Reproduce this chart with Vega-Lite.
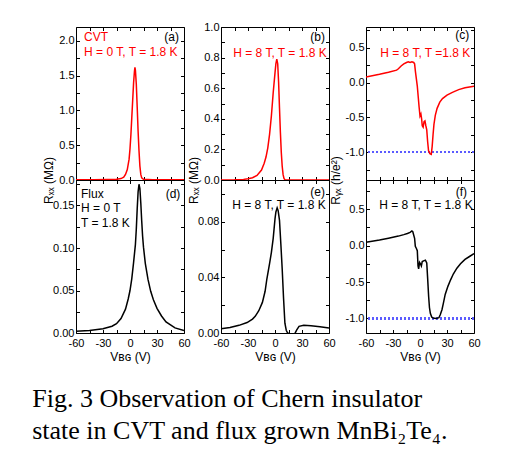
{
  "$schema": "https://vega.github.io/schema/vega-lite/v6.json",
  "padding": {"left": 32, "top": 20, "right": 5, "bottom": 5},
  "background": "white",
  "datasets": {
    "a": [
      {"V": -60, "R": 0.003}, {"V": -40, "R": 0.004}, {"V": -25, "R": 0.006}, {"V": -15, "R": 0.01},
      {"V": -10, "R": 0.02}, {"V": -7, "R": 0.04}, {"V": -5, "R": 0.08}, {"V": -3, "R": 0.15},
      {"V": -1, "R": 0.3}, {"V": 0, "R": 0.45}, {"V": 1, "R": 0.65}, {"V": 2, "R": 0.9},
      {"V": 3, "R": 1.15}, {"V": 4, "R": 1.4}, {"V": 5, "R": 1.57}, {"V": 5.5, "R": 1.62},
      {"V": 6, "R": 1.58}, {"V": 7, "R": 1.38}, {"V": 8, "R": 1.05}, {"V": 9, "R": 0.7},
      {"V": 10, "R": 0.42}, {"V": 11, "R": 0.2}, {"V": 12, "R": 0.08}, {"V": 13, "R": 0.03},
      {"V": 15, "R": 0.01}, {"V": 25, "R": 0.004}, {"V": 40, "R": 0.003}, {"V": 60, "R": 0.002}
    ],
    "b": [
      {"V": -60, "R": 0}, {"V": -45, "R": 0.001}, {"V": -35, "R": 0.004}, {"V": -30, "R": 0.008},
      {"V": -25, "R": 0.015}, {"V": -20, "R": 0.03}, {"V": -15, "R": 0.065}, {"V": -12, "R": 0.11},
      {"V": -10, "R": 0.15}, {"V": -8, "R": 0.21}, {"V": -6, "R": 0.3}, {"V": -4, "R": 0.42},
      {"V": -2, "R": 0.57}, {"V": 0, "R": 0.7}, {"V": 1, "R": 0.76}, {"V": 2, "R": 0.79},
      {"V": 3, "R": 0.76}, {"V": 4, "R": 0.64}, {"V": 5, "R": 0.47}, {"V": 6, "R": 0.31},
      {"V": 7, "R": 0.18}, {"V": 8, "R": 0.09}, {"V": 9, "R": 0.035}, {"V": 10, "R": 0.01},
      {"V": 11, "R": 0.002}, {"V": 13, "R": 0}, {"V": 60, "R": 0}
    ],
    "c": [
      {"V": -60, "R": 0.08}, {"V": -45, "R": 0.12}, {"V": -35, "R": 0.15}, {"V": -26, "R": 0.18},
      {"V": -24, "R": 0.2}, {"V": -21, "R": 0.24}, {"V": -18, "R": 0.27}, {"V": -15, "R": 0.29},
      {"V": -13, "R": 0.3}, {"V": -11, "R": 0.29}, {"V": -9, "R": 0.3}, {"V": -7, "R": 0.29},
      {"V": -6, "R": 0.27}, {"V": -5, "R": 0.15}, {"V": -4, "R": 0.05}, {"V": -3, "R": -0.05},
      {"V": -2, "R": -0.2}, {"V": -1, "R": -0.35}, {"V": 0, "R": -0.48}, {"V": 1, "R": -0.45},
      {"V": 1.8, "R": -0.52}, {"V": 2.5, "R": -0.62}, {"V": 3.5, "R": -0.64}, {"V": 4.5, "R": -0.56},
      {"V": 5.5, "R": -0.55}, {"V": 6.5, "R": -0.62}, {"V": 7.5, "R": -0.68}, {"V": 8.5, "R": -0.85},
      {"V": 9.5, "R": -0.98}, {"V": 11, "R": -1.02}, {"V": 12.5, "R": -1.03}, {"V": 13.5, "R": -0.92},
      {"V": 14.5, "R": -0.75}, {"V": 15.5, "R": -0.6}, {"V": 17, "R": -0.47}, {"V": 19, "R": -0.37},
      {"V": 22, "R": -0.28}, {"V": 25, "R": -0.23}, {"V": 30, "R": -0.18}, {"V": 36, "R": -0.14},
      {"V": 43, "R": -0.1}, {"V": 50, "R": -0.075}, {"V": 60, "R": -0.05}
    ],
    "d": [
      {"V": -60, "R": 0.002}, {"V": -45, "R": 0.003}, {"V": -30, "R": 0.005}, {"V": -20, "R": 0.008},
      {"V": -15, "R": 0.011}, {"V": -10, "R": 0.017}, {"V": -5, "R": 0.028}, {"V": -2, "R": 0.04},
      {"V": 0, "R": 0.05}, {"V": 2, "R": 0.064}, {"V": 4, "R": 0.083}, {"V": 6, "R": 0.104},
      {"V": 7, "R": 0.122}, {"V": 8, "R": 0.146}, {"V": 9, "R": 0.166}, {"V": 10, "R": 0.175},
      {"V": 11, "R": 0.17}, {"V": 12, "R": 0.153}, {"V": 13, "R": 0.132}, {"V": 14, "R": 0.114},
      {"V": 15, "R": 0.101}, {"V": 17, "R": 0.082}, {"V": 20, "R": 0.063}, {"V": 23, "R": 0.049},
      {"V": 26, "R": 0.039}, {"V": 30, "R": 0.029}, {"V": 35, "R": 0.02}, {"V": 40, "R": 0.013},
      {"V": 50, "R": 0.006}, {"V": 60, "R": 0.003}
    ],
    "e": [
      {"V": -60, "R": 0.003}, {"V": -50, "R": 0.004}, {"V": -40, "R": 0.0055}, {"V": -31, "R": 0.0075},
      {"V": -25, "R": 0.01}, {"V": -22, "R": 0.012}, {"V": -18, "R": 0.016}, {"V": -14, "R": 0.022},
      {"V": -11, "R": 0.03}, {"V": -9, "R": 0.039}, {"V": -6, "R": 0.05}, {"V": -4, "R": 0.058},
      {"V": -2, "R": 0.068}, {"V": -1, "R": 0.075}, {"V": 0, "R": 0.082}, {"V": 1, "R": 0.087},
      {"V": 2.4, "R": 0.09}, {"V": 3.5, "R": 0.088}, {"V": 5, "R": 0.081}, {"V": 6.5, "R": 0.064},
      {"V": 8, "R": 0.046}, {"V": 9.5, "R": 0.025}, {"V": 11, "R": 0.007}, {"V": 12.5, "R": 0.002},
      {"V": 14, "R": 0}, {"V": 17, "R": -0.0005}, {"V": 22, "R": -0.0005}, {"V": 24, "R": 0.002},
      {"V": 26.7, "R": 0.0048}, {"V": 32, "R": 0.0055}, {"V": 40, "R": 0.0052}, {"V": 50, "R": 0.0045},
      {"V": 60, "R": 0.0036}
    ],
    "f": [
      {"V": -60, "R": 0.045}, {"V": -45, "R": 0.075}, {"V": -35, "R": 0.1}, {"V": -24, "R": 0.13},
      {"V": -18, "R": 0.15}, {"V": -14, "R": 0.165}, {"V": -11, "R": 0.18}, {"V": -9, "R": 0.2},
      {"V": -8, "R": 0.19}, {"V": -6, "R": 0.1}, {"V": -5.2, "R": -0.01}, {"V": -4, "R": -0.04},
      {"V": -3, "R": -0.07}, {"V": -2.2, "R": -0.28}, {"V": -1.5, "R": -0.32}, {"V": -0.5, "R": -0.23},
      {"V": 0.5, "R": -0.25}, {"V": 1.5, "R": -0.28}, {"V": 2.5, "R": -0.22}, {"V": 4, "R": -0.21},
      {"V": 6, "R": -0.2}, {"V": 7.5, "R": -0.24}, {"V": 8.5, "R": -0.45}, {"V": 9.6, "R": -0.7},
      {"V": 10.5, "R": -0.85}, {"V": 11.5, "R": -0.93}, {"V": 13, "R": -0.98}, {"V": 14.5, "R": -0.995},
      {"V": 18, "R": -1.0}, {"V": 21, "R": -0.99}, {"V": 22.5, "R": -0.95}, {"V": 24.4, "R": -0.88},
      {"V": 26, "R": -0.79}, {"V": 28, "R": -0.67}, {"V": 31, "R": -0.56}, {"V": 34, "R": -0.47},
      {"V": 37, "R": -0.39}, {"V": 41, "R": -0.31}, {"V": 45, "R": -0.25}, {"V": 50, "R": -0.19},
      {"V": 55, "R": -0.15}, {"V": 60, "R": -0.11}
    ]
  },
  "title": {
    "text": ["Fig. 3 Observation of Chern insulator", "state in CVT and flux grown MnBi₂Te₄."],
    "orient": "bottom", "anchor": "start", "frame": "bounds",
    "font": "Liberation Serif", "fontSize": 26, "fontWeight": "normal", "color": "black",
    "lineHeight": 32, "offset": 23, "dx": -10
  },
  "columns": 3,
  "spacing": {"row": 0, "column": 37},
  "bounds": "flush",
  "concat": [
    {
      "width": 108, "height": 153,
      "layer": [
        {"data": {"name": "a"}, "mark": {"type": "line", "color": "#ff0000", "clip": true},
         "encoding": {
           "x": {"field": "V", "type": "quantitative", "scale": {"domain": [-60, 60], "nice": false},
                 "axis": {"orient": "bottom", "values": [-60, -45, -30, -15, 0, 15, 30, 45, 60], "labels": false, "title": null}},
           "y": {"field": "R", "type": "quantitative", "scale": {"domain": [0, 2.2], "nice": false, "zero": false},
                 "axis": {"orient": "left", "values": [0, 0.25, 0.5, 0.75, 1, 1.25, 1.5, 1.75, 2],
                          "labelExpr": "abs(datum.value/0.5 - round(datum.value/0.5)) < 0.001 ? replace(format(datum.value, '.1f'), '\u2212', '-') : ''",
                          "title": "Rₓₓ (MΩ)", "titleY": 153}}
         }},
        {"data": {"name": "a"}, "mark": {"type": "line", "opacity": 0},
         "encoding": {
           "x": {"field": "V", "type": "quantitative", "axis": {"orient": "top", "values": [-60, -45, -30, -15, 0, 15, 30, 45, 60], "labels": false, "title": null}},
           "y": {"field": "R", "type": "quantitative", "axis": {"orient": "right", "values": [0, 0.25, 0.5, 0.75, 1, 1.25, 1.5, 1.75, 2], "labels": false, "title": null}}
         }},
        {"data": {"values": [{"x": -51, "y": 2.05, "t": "CVT"}, {"x": -51, "y": 1.84, "t": "H = 0 T, T = 1.8 K"}]},
         "mark": {"type": "text", "align": "left", "baseline": "middle", "color": "#ff0000"},
         "encoding": {"x": {"field": "x", "type": "quantitative", "axis": null}, "y": {"field": "y", "type": "quantitative", "axis": null}, "text": {"field": "t"}}},
        {"data": {"values": [{"x": 54.4, "y": 2.05, "t": "(a)"}]},
         "mark": {"type": "text", "align": "right", "baseline": "middle", "color": "black"},
         "encoding": {"x": {"field": "x", "type": "quantitative", "axis": null}, "y": {"field": "y", "type": "quantitative", "axis": null}, "text": {"field": "t"}}}
      ],
      "resolve": {"axis": {"x": "independent", "y": "independent"}}
    },
    {
      "width": 108, "height": 153,
      "layer": [
        {"data": {"name": "b"}, "mark": {"type": "line", "color": "#ff0000", "clip": true},
         "encoding": {
           "x": {"field": "V", "type": "quantitative", "scale": {"domain": [-60, 60], "nice": false},
                 "axis": {"orient": "bottom", "values": [-60, -45, -30, -15, 0, 15, 30, 45, 60], "labels": false, "title": null}},
           "y": {"field": "R", "type": "quantitative", "scale": {"domain": [0, 1], "nice": false, "zero": false},
                 "axis": {"orient": "left", "values": [0, 0.1, 0.2, 0.3, 0.4, 0.5, 0.6, 0.7, 0.8, 0.9, 1],
                          "labelExpr": "abs(datum.value/0.2 - round(datum.value/0.2)) < 0.001 ? format(datum.value, '.1f') : ''",
                          "title": "Rₓₓ (MΩ)", "titleY": 153}}
         }},
        {"data": {"name": "b"}, "mark": {"type": "line", "opacity": 0},
         "encoding": {
           "x": {"field": "V", "type": "quantitative", "axis": {"orient": "top", "values": [-60, -45, -30, -15, 0, 15, 30, 45, 60], "labels": false, "title": null}},
           "y": {"field": "R", "type": "quantitative", "axis": {"orient": "right", "values": [0, 0.1, 0.2, 0.3, 0.4, 0.5, 0.6, 0.7, 0.8, 0.9, 1], "labels": false, "title": null}}
         }},
        {"data": {"values": [{"x": 57.4, "y": 0.828, "t": "H = 8 T, T = 1.8 K"}]},
         "mark": {"type": "text", "align": "right", "baseline": "middle", "color": "#ff0000"},
         "encoding": {"x": {"field": "x", "type": "quantitative", "axis": null}, "y": {"field": "y", "type": "quantitative", "axis": null}, "text": {"field": "t"}}},
        {"data": {"values": [{"x": 55.6, "y": 0.933, "t": "(b)"}]},
         "mark": {"type": "text", "align": "right", "baseline": "middle", "color": "black"},
         "encoding": {"x": {"field": "x", "type": "quantitative", "axis": null}, "y": {"field": "y", "type": "quantitative", "axis": null}, "text": {"field": "t"}}}
      ],
      "resolve": {"axis": {"x": "independent", "y": "independent"}}
    },
    {
      "width": 108, "height": 153,
      "layer": [
        {"data": {"name": "c"}, "mark": {"type": "rule", "color": "#5b5bff", "strokeDash": [2, 2], "strokeWidth": 1.5},
         "encoding": {"y": {"datum": -1, "type": "quantitative", "axis": null}}},
        {"data": {"name": "c"}, "mark": {"type": "line", "color": "#ff0000", "clip": true},
         "encoding": {
           "x": {"field": "V", "type": "quantitative", "scale": {"domain": [-60, 60], "nice": false},
                 "axis": {"orient": "bottom", "values": [-60, -45, -30, -15, 0, 15, 30, 45, 60], "labels": false, "title": null}},
           "y": {"field": "R", "type": "quantitative", "scale": {"domain": [-1.4, 0.8], "nice": false, "zero": false},
                 "axis": {"orient": "left", "values": [-1.25, -1, -0.75, -0.5, -0.25, 0, 0.25, 0.5, 0.75],
                          "labelExpr": "abs(datum.value/0.5 - round(datum.value/0.5)) < 0.001 ? replace(format(datum.value, '.1f'), '\u2212', '-') : ''",
                          "title": "Rᵧₓ (h/e²)", "titleY": 153}}
         }},
        {"data": {"name": "c"}, "mark": {"type": "line", "opacity": 0},
         "encoding": {
           "x": {"field": "V", "type": "quantitative", "axis": {"orient": "top", "values": [-60, -45, -30, -15, 0, 15, 30, 45, 60], "labels": false, "title": null}},
           "y": {"field": "R", "type": "quantitative", "axis": {"orient": "right", "values": [-1.25, -1, -0.75, -0.5, -0.25, 0, 0.25, 0.5, 0.75], "labels": false, "title": null}}
         }},
        {"data": {"values": [{"x": 55.9, "y": 0.42, "t": "H = 8 T, T =1.8 K"}]},
         "mark": {"type": "text", "align": "right", "baseline": "middle", "color": "#ff0000"},
         "encoding": {"x": {"field": "x", "type": "quantitative", "axis": null}, "y": {"field": "y", "type": "quantitative", "axis": null}, "text": {"field": "t"}}},
        {"data": {"values": [{"x": 54.8, "y": 0.685, "t": "(c)"}]},
         "mark": {"type": "text", "align": "right", "baseline": "middle", "color": "black"},
         "encoding": {"x": {"field": "x", "type": "quantitative", "axis": null}, "y": {"field": "y", "type": "quantitative", "axis": null}, "text": {"field": "t"}}}
      ],
      "resolve": {"axis": {"x": "independent", "y": "independent"}}
    },
    {
      "width": 108, "height": 153,
      "layer": [
        {"data": {"name": "d"}, "mark": {"type": "line", "color": "black", "clip": true},
         "encoding": {
           "x": {"field": "V", "type": "quantitative", "scale": {"domain": [-60, 60], "nice": false},
                 "axis": {"orient": "bottom", "values": [-60, -45, -30, -15, 0, 15, 30, 45, 60],
                          "labelExpr": "datum.value % 30 === 0 ? datum.value + '' : ''", "title": "Vʙɢ (V)"}},
           "y": {"field": "R", "type": "quantitative", "scale": {"domain": [0, 0.18], "nice": false, "zero": false},
                 "axis": {"orient": "left", "values": [0, 0.025, 0.05, 0.075, 0.1, 0.125, 0.15, 0.175],
                          "labelExpr": "abs(datum.value/0.05 - round(datum.value/0.05)) < 0.001 ? format(datum.value, '.2f') : ''",
                          "title": null}}
         }},
        {"data": {"name": "d"}, "mark": {"type": "line", "opacity": 0},
         "encoding": {
           "x": {"field": "V", "type": "quantitative", "axis": {"orient": "top", "values": [-60, -45, -30, -15, 0, 15, 30, 45, 60], "labels": false, "title": null}},
           "y": {"field": "R", "type": "quantitative", "axis": {"orient": "right", "values": [0, 0.025, 0.05, 0.075, 0.1, 0.125, 0.15, 0.175], "labels": false, "title": null}}
         }},
        {"data": {"values": [{"x": -54.4, "y": 0.1635, "t": "Flux"}, {"x": -54.4, "y": 0.147, "t": "H = 0 T"}, {"x": -54.4, "y": 0.129, "t": "T = 1.8 K"}]},
         "mark": {"type": "text", "align": "left", "baseline": "middle", "color": "black"},
         "encoding": {"x": {"field": "x", "type": "quantitative", "axis": null}, "y": {"field": "y", "type": "quantitative", "axis": null}, "text": {"field": "t"}}},
        {"data": {"values": [{"x": 55.9, "y": 0.164, "t": "(d)"}]},
         "mark": {"type": "text", "align": "right", "baseline": "middle", "color": "black"},
         "encoding": {"x": {"field": "x", "type": "quantitative", "axis": null}, "y": {"field": "y", "type": "quantitative", "axis": null}, "text": {"field": "t"}}}
      ],
      "resolve": {"axis": {"x": "independent", "y": "independent"}}
    },
    {
      "width": 108, "height": 153,
      "layer": [
        {"data": {"name": "e"}, "mark": {"type": "line", "color": "black", "clip": true},
         "encoding": {
           "x": {"field": "V", "type": "quantitative", "scale": {"domain": [-60, 60], "nice": false},
                 "axis": {"orient": "bottom", "values": [-60, -45, -30, -15, 0, 15, 30, 45, 60],
                          "labelExpr": "datum.value % 30 === 0 ? datum.value + '' : ''", "title": "Vʙɢ (V)"}},
           "y": {"field": "R", "type": "quantitative", "scale": {"domain": [0, 0.11], "nice": false, "zero": false},
                 "axis": {"orient": "left", "values": [0, 0.02, 0.04, 0.06, 0.08, 0.1],
                          "labelExpr": "abs(datum.value/0.04 - round(datum.value/0.04)) < 0.001 ? format(datum.value, '.2f') : ''",
                          "title": null}}
         }},
        {"data": {"name": "e"}, "mark": {"type": "line", "opacity": 0},
         "encoding": {
           "x": {"field": "V", "type": "quantitative", "axis": {"orient": "top", "values": [-60, -45, -30, -15, 0, 15, 30, 45, 60], "labels": false, "title": null}},
           "y": {"field": "R", "type": "quantitative", "axis": {"orient": "right", "values": [0, 0.02, 0.04, 0.06, 0.08, 0.1], "labels": false, "title": null}}
         }},
        {"data": {"values": [{"x": 56.3, "y": 0.092, "t": "H = 8 T, T = 1.8 K"}, {"x": 55.6, "y": 0.1016, "t": "(e)"}]},
         "mark": {"type": "text", "align": "right", "baseline": "middle", "color": "black"},
         "encoding": {"x": {"field": "x", "type": "quantitative", "axis": null}, "y": {"field": "y", "type": "quantitative", "axis": null}, "text": {"field": "t"}}}
      ],
      "resolve": {"axis": {"x": "independent", "y": "independent"}}
    },
    {
      "width": 108, "height": 153,
      "layer": [
        {"data": {"name": "f"}, "mark": {"type": "rule", "color": "#5b5bff", "strokeDash": [2, 2], "strokeWidth": 1.5},
         "encoding": {"y": {"datum": -1, "type": "quantitative", "axis": null}}},
        {"data": {"name": "f"}, "mark": {"type": "line", "color": "black", "clip": true},
         "encoding": {
           "x": {"field": "V", "type": "quantitative", "scale": {"domain": [-60, 60], "nice": false},
                 "axis": {"orient": "bottom", "values": [-60, -45, -30, -15, 0, 15, 30, 45, 60],
                          "labelExpr": "datum.value % 30 === 0 ? datum.value + '' : ''", "title": "Vʙɢ (V)"}},
           "y": {"field": "R", "type": "quantitative", "scale": {"domain": [-1.2, 0.9], "nice": false, "zero": false},
                 "axis": {"orient": "left", "values": [-1, -0.75, -0.5, -0.25, 0, 0.25, 0.5, 0.75],
                          "labelExpr": "abs(datum.value/0.5 - round(datum.value/0.5)) < 0.001 ? replace(format(datum.value, '.1f'), '\u2212', '-') : ''",
                          "title": null}}
         }},
        {"data": {"name": "f"}, "mark": {"type": "line", "opacity": 0},
         "encoding": {
           "x": {"field": "V", "type": "quantitative", "axis": {"orient": "top", "values": [-60, -45, -30, -15, 0, 15, 30, 45, 60], "labels": false, "title": null}},
           "y": {"field": "R", "type": "quantitative", "axis": {"orient": "right", "values": [-1, -0.75, -0.5, -0.25, 0, 0.25, 0.5, 0.75], "labels": false, "title": null}}
         }},
        {"data": {"values": [{"x": 58.5, "y": 0.557, "t": "H = 8 T, T = 1.8 K"}, {"x": 52.2, "y": 0.74, "t": "(f)"}]},
         "mark": {"type": "text", "align": "right", "baseline": "middle", "color": "black"},
         "encoding": {"x": {"field": "x", "type": "quantitative", "axis": null}, "y": {"field": "y", "type": "quantitative", "axis": null}, "text": {"field": "t"}}}
      ],
      "resolve": {"axis": {"x": "independent", "y": "independent"}}
    }
  ],
  "config": {
    "view": {"stroke": "black", "strokeWidth": 1},
    "axis": {"grid": false, "domain": false, "tickColor": "black", "tickSize": -3.5, "tickWidth": 1,
             "labelFont": "Liberation Sans", "labelFontSize": 11, "labelColor": "black", "labelFlush": false,
             "titleFont": "Liberation Sans", "titleFontSize": 12, "titleFontWeight": "normal", "titleColor": "black", "titlePadding": 3},
    "axisX": {"labelPadding": 7.5},
    "axisY": {"labelPadding": 5.5},
    "line": {"strokeWidth": 1.5},
    "text": {"font": "Liberation Sans", "fontSize": 12}
  }
}
